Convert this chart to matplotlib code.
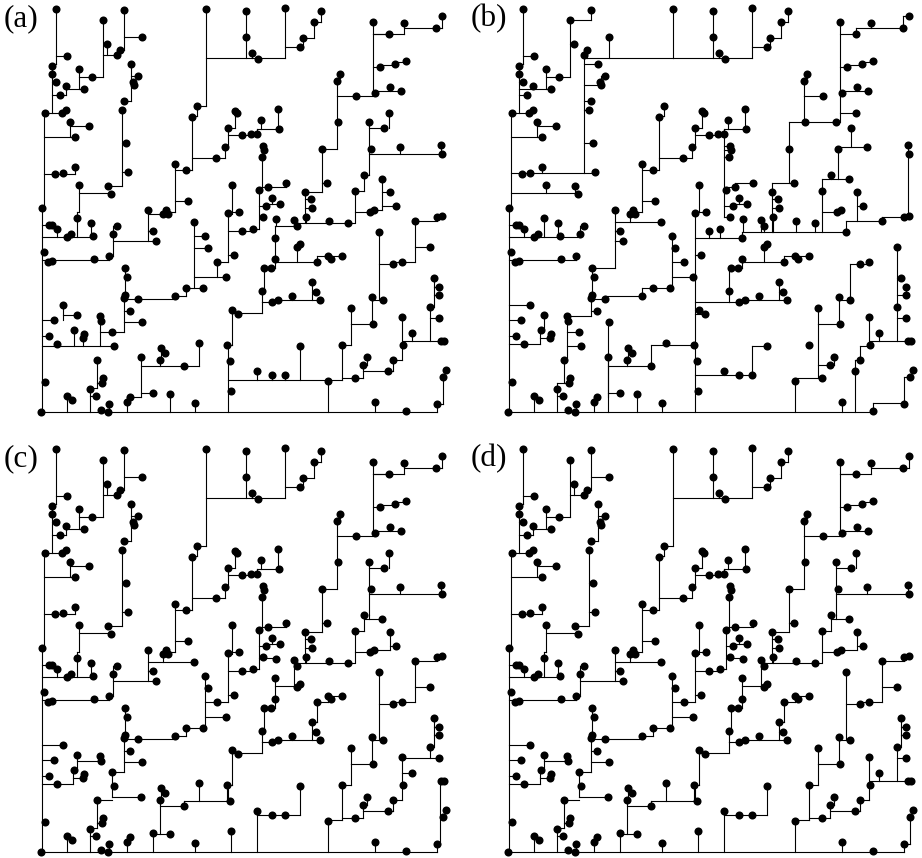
import matplotlib
matplotlib.use('Agg')
import matplotlib.pyplot as plt
from matplotlib.collections import LineCollection

# same terminal set in every panel (x, y)
points = [
    (56,9),(67,56),(52,66),(52,74),(56,82),(66,86),(60,95),(79,69),(84,89),(92,77),(103,20),(124,10),
    (142,37),(107,44),(120,50),(117,55),(131,64),(138,76),(133,82),(134,85),(124,101),(122,110),(45,113),
    (62,113),(66,110),(70,122),(89,126),(75,137),(126,143),(128,172),(55,174),(63,173),(75,167),(79,185),
    (108,186),(111,194),(42,208),(206,9),(197,106),(192,117),(175,164),(186,170),(216,158),(225,147),
    (228,128),(235,111),(237,113),(188,201),(148,210),(166,210),(232,185),(228,213),(239,212),
    (246,11),(285,8),(321,11),(314,22),(303,38),(300,47),(246,37),(252,53),(258,59),(373,22),(389,34),
    (404,23),(436,28),(442,16),(380,67),(395,64),(406,61),(340,74),(337,81),(356,96),(375,93),(390,87),
    (401,91),(338,122),(389,113),(369,122),(384,128),(371,149),(400,147),(441,145),(442,154),(322,149),
    (364,175),(327,183),(305,192),(355,191),(311,199),(312,208),(382,179),(390,192),(396,206),(370,212),
    (374,210),(261,120),(278,109),(279,129),(242,135),(251,134),(257,134),(263,146),(264,150),(262,157),
    (259,190),(268,187),(286,183),(272,198),(266,206),(280,204),
    (49,225),(52,225),(57,229),(67,237),(71,234),(77,218),(91,223),(93,236),(117,226),(113,234),(153,231),
    (156,241),(163,214),(168,214),(194,222),(205,236),(208,248),(217,262),(234,255),(226,277),(186,288),
    (203,288),(175,296),(138,299),(125,268),(127,277),(125,295),(124,298),(44,252),(48,262),(52,261),
    (94,259),(109,256),(130,311),(142,322),(112,332),(100,316),(101,321),(63,305),(77,315),(54,320),
    (49,336),(74,330),(84,334),(83,338),(57,344),(114,346),(161,348),(165,353),(160,360),(141,357),
    (184,366),(199,343),(227,345),(230,361),(232,310),(238,314),(97,360),(103,378),(102,383),(90,389),
    (96,396),(45,382),(67,396),(72,400),(127,402),(130,397),(153,393),(170,394),(195,403),(231,391),
    (109,404),(101,410),(108,412),(41,412),
    (263,217),(253,229),(242,231),(276,219),(294,220),(297,226),(306,217),(329,221),(348,223),(275,238),
    (275,259),(297,247),(300,244),(317,262),(328,256),(331,259),(342,256),(271,268),(264,268),(262,291),
    (272,302),(278,300),(292,296),(320,300),(316,292),(312,282),(257,371),(272,375),(285,375),(300,346),
    (328,381),(342,345),(351,308),(373,324),(372,297),(383,300),(379,232),(393,264),(402,262),(415,221),
    (430,247),(437,217),(442,216),(434,278),(439,287),(439,295),(430,307),(439,318),(402,317),(412,333),
    (403,345),(441,341),(444,341),(393,360),(367,357),(363,365),(388,371),(355,378),(446,370),(443,377),
    (437,404),(375,402),(406,411),
]

# tree edges (x0, y0, x1, y1), grouped by the panels that have them
seg_all = [
    (56,9,56,64),(56,64,52,64),(52,64,52,113),(56,56,67,56),(52,82,56,82),(79,69,79,89),(79,77,103,77),
    (103,20,103,77),(45,113,62,113),(66,110,66,113),(44,113,44,208),(44,137,75,137),(70,122,70,137),
    (70,126,89,126),(42,208,42,412),(206,58,285,58),(285,8,285,58),(246,11,246,58),(252,53,252,58),
    (285,47,303,47),(303,38,303,47),(303,38,314,38),(314,22,314,38),(314,22,321,22),(321,11,321,22),
    (197,106,197,116),(192,116,197,116),(192,116,192,170),(192,158,225,158),(225,147,225,158),
    (175,170,192,170),(175,164,175,212),(175,201,188,201),(163,212,175,212),(228,128,228,147),
    (228,128,235,128),(235,111,235,128),(228,135,257,135),(257,129,279,129),(261,120,261,129),
    (278,109,278,129),(257,129,257,135),(337,81,337,96),(373,22,373,93),(373,34,389,34),(373,67,380,67),
    (380,65,395,65),(395,62,395,65),(395,62,406,62),(375,91,401,91),(390,87,390,91),(305,199,311,199),
    (305,208,312,208),(42,225,52,225),(42,237,93,237),(57,229,57,237),(67,237,71,237),(77,218,77,237),
    (91,223,91,237),(42,252,44,252),(42,260,109,260),(109,256,109,260),(148,231,153,231),(148,214,148,241),
    (113,226,113,237),(42,320,54,320),(42,336,49,336),(124,299,138,299),(124,311,130,311),(125,268,125,298),
    (42,412,406,412),(67,396,67,412),(90,396,96,396),(109,404,109,412),(127,402,127,412),(195,403,195,412),
    (375,402,375,412),(328,381,328,412),(351,308,351,324),(351,324,373,324),(372,297,372,324),
    (372,300,383,300),(262,302,272,302),(272,300,320,300),(292,296,292,300),(312,282,312,300),
    (312,292,316,292),(264,268,275,268),(275,259,275,268),(262,291,262,302),(402,317,402,345),
    (228,255,234,255),(161,348,161,360),(161,353,165,353),(363,365,367,365),(367,357,367,365),(42,382,45,382),
    (340,74,340,78),(337,78,340,78),(337,78,337,81),(127,397,130,397),(263,146,263,157),
]
seg_acd = [
    (52,95,66,95),(66,86,66,95),(66,89,84,89),(44,174,75,174),(75,167,75,174),(103,55,117,55),(107,44,107,55),
    (117,52,120,52),(117,52,117,55),(124,10,124,50),(124,37,142,37),(120,50,124,50),(131,64,131,101),
    (131,76,138,76),(124,101,131,101),(122,110,122,186),(108,186,122,186),(122,143,126,143),(122,172,128,172),
    (79,185,79,212),(79,212,77,212),(77,212,77,218),(79,193,111,193),(206,9,206,106),(197,106,206,106),
    (337,96,337,149),(337,96,375,96),(322,149,337,149),(322,149,322,192),(322,183,327,183),(305,192,322,192),
    (305,192,305,222),(373,34,404,34),(404,23,404,34),(404,28,442,28),(442,16,442,28),(369,122,369,175),
    (369,128,384,128),(389,113,389,128),(369,154,442,154),(400,147,400,154),(441,145,441,154),(364,175,364,191),
    (355,191,364,191),(355,191,355,222),(355,212,370,212),(259,190,259,229),(259,190,262,190),(262,157,262,190),
    (259,187,286,187),(286,183,286,187),(259,206,266,206),(266,204,280,204),(272,198,272,204),(228,214,228,262),
    (228,231,253,231),(253,229,259,229),(232,185,232,214),(232,212,239,212),(113,237,113,256),(113,241,156,241),
    (109,256,113,256),(138,299,175,299),(175,296,186,296),(186,288,186,296),(186,288,203,288),
    (124,298,124,332),(124,322,142,322),(112,332,124,332),(97,360,97,388),(90,388,97,388),(90,388,90,412),
    (97,383,102,383),(232,310,232,345),(228,345,232,345),(232,313,262,313),(262,302,262,313),(264,268,264,291),
    (262,291,264,291),(328,380,342,380),(342,345,342,380),(342,378,363,378),(363,371,393,371),(363,365,363,378),
    (393,360,393,371),(393,360,402,360),(402,345,402,360),(342,345,351,345),(351,324,351,345),(379,232,379,300),
    (379,264,393,264),(393,262,415,262),(415,221,415,262),(415,221,437,221),(415,247,430,247),(434,278,434,307),
    (434,287,439,287),(434,295,439,295),(406,412,437,412),(437,404,437,412),(275,238,275,259),(297,223,355,223),
    (306,217,306,223),
]
seg_bcd = [
    (148,222,194,222),(163,214,163,222),(205,236,205,288),(205,248,208,248),(205,277,226,277),(42,305,63,305),
    (42,344,73,344),(73,330,73,344),(73,338,83,338),(77,315,77,330),
]
seg_ab = [
    (275,262,317,262),(297,247,297,262),(317,256,342,256),(317,256,317,262),(331,256,331,259),(170,394,170,412),
    (141,393,153,393),(160,360,160,366),(141,357,141,397),(228,361,230,361),(228,391,231,391),
]
seg_abd = [(403,341,444,341),(412,333,412,341),(430,307,430,341),(430,318,439,318)]
seg_ad = [(437,404,443,404),(443,377,443,404)]
seg_cd = [
    (112,332,112,357),(112,346,114,346),(112,357,141,357),(97,360,112,360),(77,321,100,321),(100,316,100,321),
    (205,262,228,262),(160,360,160,394),(153,394,170,394),(153,394,153,412),(160,366,184,366),(184,361,184,366),
    (184,361,230,361),(199,343,199,361),(227,345,227,361),(231,391,231,412),(257,371,257,412),(257,375,300,375),
    (300,346,300,375),(369,175,369,179),(364,179,382,179),(374,210,390,210),(390,192,390,210),(390,206,396,206),
    (275,246,294,246),(294,220,294,246),(294,226,297,226),(317,262,317,282),(312,282,317,282),(317,262,328,262),
    (328,256,328,262),(328,256,342,256),(331,256,331,259),(259,218,276,218),
]
seg_a_only = [
    (148,214,163,214),(194,222,194,288),(194,236,205,236),(194,248,208,248),(194,277,226,277),
    (217,262,217,277),(217,262,228,262),(63,305,63,320),(63,315,77,315),(42,346,114,346),(74,330,74,346),
    (83,338,83,346),(100,316,100,346),(100,332,112,332),(127,397,141,397),(127,397,127,402),(141,366,199,366),
    (199,343,199,366),(228,345,228,412),(228,380,328,380),(257,371,257,380),(272,375,272,380),(285,375,285,380),
    (300,346,300,380),(364,175,369,175),(382,179,382,210),(382,192,390,192),(382,206,396,206),(374,210,382,210),
    (275,226,275,238),(276,219,276,226),(275,226,297,226),(294,220,294,226),
]
seg_b_only = [
    (52,89,84,89),(66,86,66,89),(52,95,60,95),(117,58,117,173),(44,173,128,173),(75,167,75,173),(117,64,131,64),
    (117,85,134,85),(134,76,138,76),(134,76,134,85),(117,101,124,101),(117,110,122,110),(117,143,126,143),
    (44,193,111,193),(79,185,79,193),(108,186,108,193),(103,20,124,20),(124,10,124,20),(103,44,107,44),
    (117,58,206,58),(142,37,142,58),(206,9,206,58),(120,50,120,58),(337,96,356,96),(337,96,337,122),(322,122,369,122),
    (322,122,322,183),(305,183,327,183),(305,183,305,232),(373,93,373,122),(373,113,389,113),(384,128,384,147),
    (371,147,400,147),(371,147,371,179),(355,179,382,179),(364,175,364,179),(355,179,355,232),(355,212,370,212),
    (389,28,436,28),(389,28,389,34),(404,23,404,28),(436,16,436,28),(436,16,442,16),(441,145,441,217),
    (415,217,441,217),(415,217,415,221),(379,221,415,221),(379,221,379,232),(390,192,390,221),(390,206,396,206),
    (275,232,379,232),(276,219,276,232),(294,220,294,232),(297,226,297,232),(329,221,329,232),(348,223,348,232),
    (306,217,306,232),(275,232,275,238),(228,238,275,238),(242,231,242,238),(253,229,253,238),(228,214,228,412),
    (232,185,232,212),(228,212,239,212),(226,277,228,277),(228,302,262,302),(228,310,232,310),(228,314,239,314),
    (228,375,285,375),(257,371,257,375),(285,346,285,375),(285,346,300,346),(257,135,257,217),(257,146,263,146),
    (257,150,264,150),(257,157,262,157),(257,190,259,190),(268,183,286,183),(268,183,268,187),(259,187,268,187),
    (257,206,266,206),(266,204,280,204),(272,198,272,204),(257,217,263,217),(148,241,148,268),(124,268,148,268),
    (148,241,156,241),(124,298,124,316),(100,316,124,316),(100,316,100,360),(97,360,100,360),(100,332,112,332),
    (100,346,114,346),(97,360,97,383),(90,383,102,383),(90,383,90,412),(138,296,138,299),(138,296,175,296),
    (175,288,175,296),(175,288,203,288),(205,262,217,262),(141,322,141,412),(141,366,184,366),(184,345,184,366),
    (184,345,227,345),(199,343,199,345),(262,268,264,268),(262,268,262,291),(93,237,113,237),(328,378,355,378),
    (351,324,351,378),(351,365,363,365),(383,264,383,300),(383,264,402,264),(388,360,393,360),(393,346,393,360),
    (393,346,403,346),(388,360,388,412),(406,403,437,403),(406,403,406,412),(437,377,437,403),(437,377,443,377),
    (430,247,430,307),(430,278,434,278),(430,295,439,295),(439,287,439,295),
]
seg_c_only = [
    (402,318,439,318),(430,307,430,318),(402,333,412,333),(440,341,444,341),(440,341,440,404),(437,404,440,404),
    (440,377,443,377),
]
seg_cd_left = [(228,345,228,361)]

panels = {
    '(a)': seg_all + seg_acd + seg_ab + seg_abd + seg_ad + seg_a_only,
    '(b)': seg_all + seg_bcd + seg_ab + seg_abd + seg_b_only,
    '(c)': seg_all + seg_acd + seg_bcd + seg_cd + seg_cd_left + seg_c_only,
    '(d)': seg_all + seg_acd + seg_bcd + seg_cd + seg_cd_left + seg_abd + seg_ad,
}
offsets = {'(a)': (0, 0), '(b)': (467, 0), '(c)': (0, 440), '(d)': (467, 440)}

W, H = 922, 858
PW, PH = 455, 418

plt.rcParams['font.family'] = ['Liberation Serif', 'DejaVu Serif']
fig = plt.figure(figsize=(W / 100, H / 100), dpi=100)
for name, segs in panels.items():
    dx, dy = offsets[name]
    ax = fig.add_axes([dx / W, 1 - (dy + PH) / H, PW / W, PH / H])
    ax.set_xlim(0, PW)
    ax.set_ylim(PH, 0)
    ax.axis('off')
    lines = [[(s[0], s[1]), (s[2], s[3])] for s in segs]
    ax.add_collection(LineCollection(lines, colors='black', linewidths=0.8, capstyle='projecting'))
    ax.plot([p[0] for p in points], [p[1] for p in points], 'o', color='black', ms=5.8, mew=0, clip_on=False)
    ax.text(4, 26, name, fontsize=22.5, color='black', ha='left', va='baseline')

fig.savefig('out.png', dpi=100)
